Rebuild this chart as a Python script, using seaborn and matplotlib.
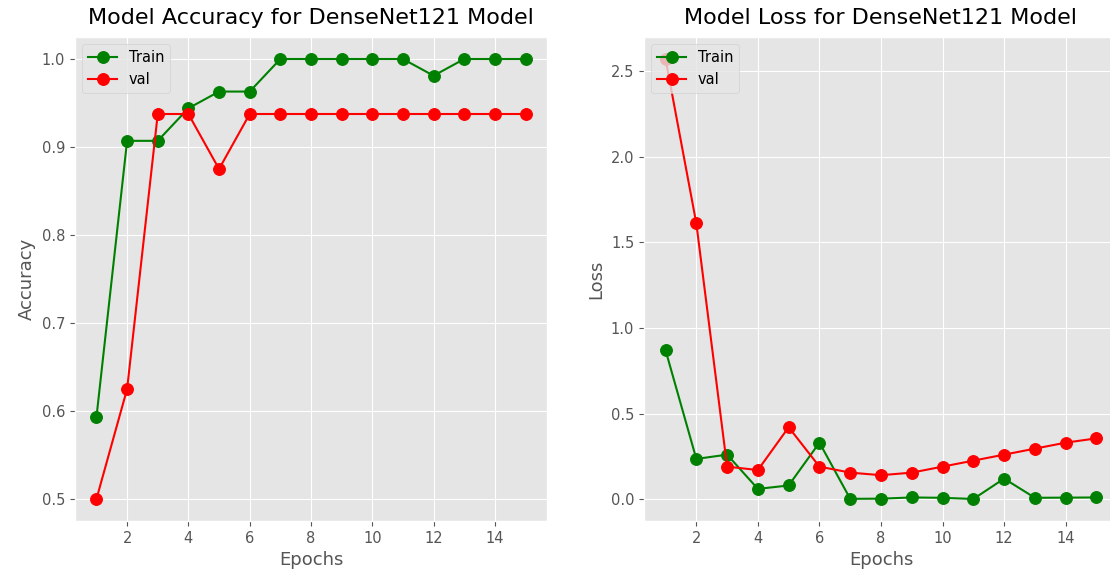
import matplotlib
matplotlib.use('Agg')
import matplotlib.pyplot as plt
import seaborn as sns
import pandas as pd

# training history values
epochs = list(range(1, 16))
train_acc = [0.593, 0.907, 0.907, 0.944, 0.963, 0.963, 1.0, 1.0, 1.0, 1.0, 1.0, 0.981, 1.0, 1.0, 1.0]
val_acc = [0.5, 0.625, 0.9375, 0.9375, 0.875, 0.9375, 0.9375, 0.9375, 0.9375, 0.9375, 0.9375, 0.9375, 0.9375, 0.9375, 0.9375]
train_loss = [0.87, 0.235, 0.26, 0.06, 0.08, 0.33, 0.002, 0.003, 0.01, 0.008, 0.001, 0.12, 0.008, 0.009, 0.01]
val_loss = [2.57, 1.61, 0.19, 0.17, 0.42, 0.19, 0.155, 0.14, 0.155, 0.19, 0.225, 0.26, 0.295, 0.33, 0.355]

plt.style.use('ggplot')
plt.rcParams['font.family'] = 'DejaVu Sans'

fig = plt.figure(figsize=(11.1, 5.79), dpi=100)
ax1 = fig.add_axes([75 / 1110, 1 - 521 / 579, (547 - 75) / 1110, (521 - 37) / 579])
ax2 = fig.add_axes([644 / 1110, 1 - 521 / 579, (1118 - 644) / 1110, (521 - 37) / 579])

panels = [
    (ax1, train_acc, val_acc, 'Accuracy', 'Model Accuracy for DenseNet121 Model'),
    (ax2, train_loss, val_loss, 'Loss', 'Model Loss for DenseNet121 Model'),
]

for ax, tr, va, ylab, title in panels:
    sns.lineplot(x=epochs, y=tr, ax=ax, color='green', marker='o', markersize=8.5,
                 markeredgecolor='green', linewidth=1.5, label='Train')
    sns.lineplot(x=epochs, y=va, ax=ax, color='red', marker='o', markersize=8.5,
                 markeredgecolor='red', linewidth=1.5, label='val')
    ax.set_title(title, fontsize=16, color='black', pad=9)
    ax.set_xlabel('Epochs', fontsize=13, color='#555555')
    ax.set_ylabel(ylab, fontsize=13, color='#555555')
    ax.tick_params(labelsize=10.5, colors='#555555')
    ax.set_xticks([2, 4, 6, 8, 10, 12, 14])
    ax.legend(loc='upper left', fontsize=10.5)

plt.savefig('out.png', dpi=100)
